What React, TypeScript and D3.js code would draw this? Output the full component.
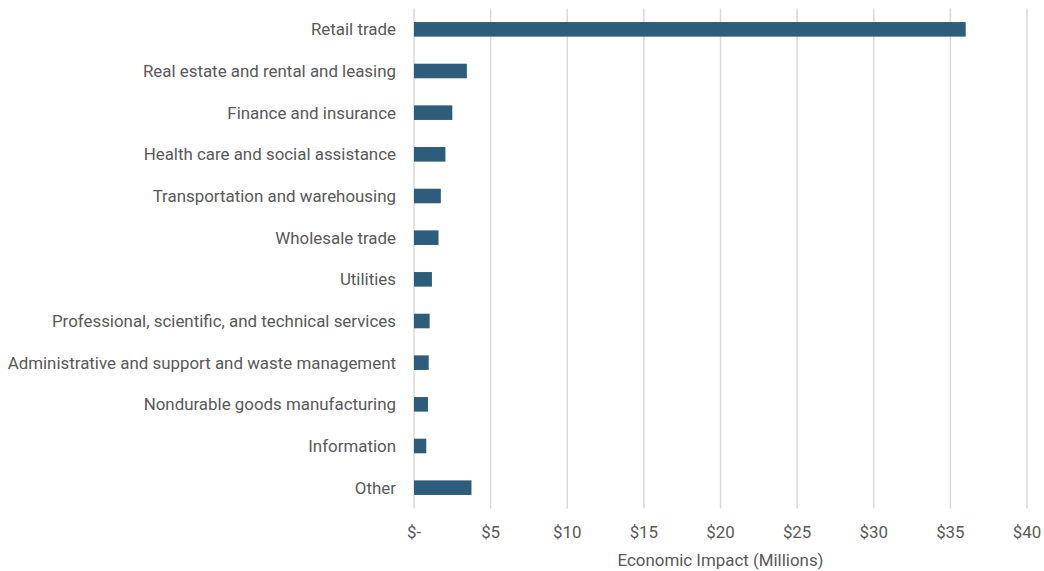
import React from 'react';
import * as d3 from 'd3';

// Chart data
const categories = [
  'Retail trade',
  'Real estate and rental and leasing',
  'Finance and insurance',
  'Health care and social assistance',
  'Transportation and warehousing',
  'Wholesale trade',
  'Utilities',
  'Professional, scientific, and technical services',
  'Administrative and support and waste management',
  'Nondurable goods manufacturing',
  'Information',
  'Other',
];
const impactValues = [36.0, 3.45, 2.5, 2.05, 1.75, 1.6, 1.17, 1.02, 0.96, 0.91, 0.8, 3.75];
const tickValues = [0, 5, 10, 15, 20, 25, 30, 35, 40];
const axisTitle = 'Economic Impact (Millions)';

const WIDTH = 1044;
const HEIGHT = 571;
const MARGIN = { top: 8.5, right: 17, bottom: 62.5, left: 414 };
const FONT = 'Roboto, "Open Sans", sans-serif';
const TEXT_COLOR = '#595959';
const BAR_COLOR = '#2E5C7B';
const GRID_COLOR = '#d9d9d9';

export default function App() {
  const innerW = WIDTH - MARGIN.left - MARGIN.right;
  const innerH = HEIGHT - MARGIN.top - MARGIN.bottom;

  const x = d3.scaleLinear().domain([0, 40]).range([0, innerW]);
  const y = d3.scaleBand().domain(categories).range([0, innerH]).paddingInner(0.65).paddingOuter(0.325);

  const fmt = (v: number) => (v === 0 ? '$-' : `$${v}`);

  return (
    <svg
      width={WIDTH}
      height={HEIGHT}
      style={{ position: 'absolute', left: 0, top: 0, background: '#fff' }}
    >
      <g transform={`translate(${MARGIN.left},${MARGIN.top})`}>
        {/* gridlines */}
        {tickValues.map((t) => (
          <line
            key={t}
            x1={x(t)}
            x2={x(t)}
            y1={0}
            y2={innerH}
            stroke={GRID_COLOR}
            strokeWidth={1.5}
          />
        ))}

        {/* bars */}
        {categories.map((c, i) => (
          <rect
            key={c}
            x={x(0)}
            y={y(c)}
            width={x(impactValues[i]) - x(0)}
            height={y.bandwidth()}
            fill={BAR_COLOR}
          />
        ))}

        {/* category labels */}
        {categories.map((c) => (
          <text
            key={c}
            x={-18}
            y={(y(c) ?? 0) + y.bandwidth() / 2}
            dy="0.35em"
            textAnchor="end"
            fontFamily={FONT}
            fontSize={16.9}
            fill={TEXT_COLOR}
          >
            {c}
          </text>
        ))}

        {/* x tick labels */}
        {tickValues.map((t) => (
          <text
            key={t}
            x={x(t)}
            y={innerH + 23.5}
            dy="0.35em"
            textAnchor="middle"
            fontFamily={FONT}
            fontSize={16.9}
            fill={TEXT_COLOR}
          >
            {fmt(t)}
          </text>
        ))}

        {/* axis title */}
        <text
          x={innerW / 2}
          y={innerH + 52}
          dy="0.35em"
          textAnchor="middle"
          fontFamily={FONT}
          fontSize={16.9}
          fill={TEXT_COLOR}
        >
          {axisTitle}
        </text>
      </g>
    </svg>
  );
}
